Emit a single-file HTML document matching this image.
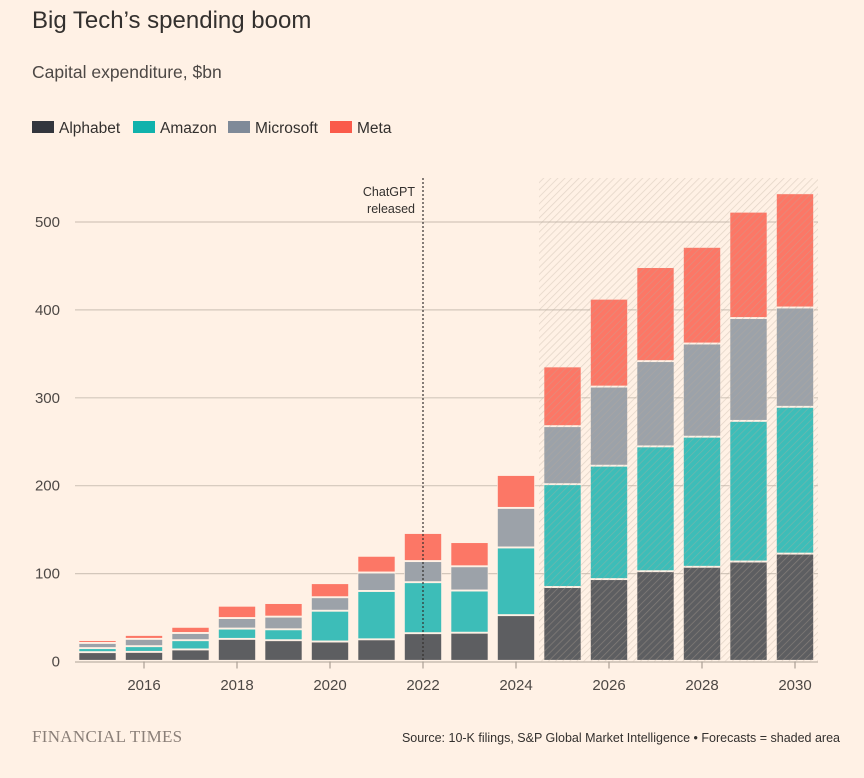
<!DOCTYPE html>
<html><head><meta charset="utf-8"><style>
body{margin:0;background:#fff1e5;font-family:"Liberation Sans",sans-serif;}
#wrap{position:relative;width:864px;height:778px;overflow:hidden;}
</style></head><body>
<div id="wrap">
<svg id="chart" width="864" height="778" xmlns="http://www.w3.org/2000/svg">
<defs>
<pattern id="hatch" width="5" height="5" patternUnits="userSpaceOnUse" patternTransform="rotate(45)">
<rect width="5" height="5" fill="none"/><line x1="0" y1="0" x2="0" y2="5" stroke="#b8ab9c" stroke-width="1.5" stroke-opacity="0.4"/>
</pattern>
</defs>
<text x="32" y="28" font-size="24" fill="#33302e">Big Tech’s spending boom</text>
<text x="32" y="78" font-size="17.5" fill="#4d4845">Capital expenditure, $bn</text>
<g id="legend"></g>
<g id="grid"></g>
<g id="bars"></g>
<g id="overlay"></g>
<g id="axes"></g>
<text x="32" y="742" font-size="17" fill="#8a7f78" font-family="Liberation Serif,serif" letter-spacing="0.3">FINANCIAL TIMES</text>
<text x="840" y="742" font-size="12.5" fill="#33302e" text-anchor="end">Source: 10-K filings, S&amp;P Global Market Intelligence • Forecasts = shaded area</text>
</svg>
</div>
<script>
const years=[2015,2016,2017,2018,2019,2020,2021,2022,2023,2024,2025,2026,2027,2028,2029,2030];
const alphabet=[9.9,10.2,13,25,23.5,22,24.5,31.5,32,52,84,93,102,107,113,122];
const amazon=[4.6,6.5,10.5,11.7,12.4,35,55,58,48,77,117,129,142,148,160,167];
const microsoft=[5.9,8.3,8.2,12,14.4,15.4,21,24,27.6,45,66,90,97,106,117,113];
const meta=[3.3,4.5,7,14,15.5,16,19,32,27.5,37.5,68,100,107,110,121,130];
const yTicks=[0,100,200,300,400,500];
const xTickYears=[2016,2018,2020,2022,2024,2026,2028,2030];
const seriesNames=["Alphabet","Amazon","Microsoft","Meta"];
const series=[alphabet,amazon,microsoft,meta];
const colors=["#5d5e61","#3dbdb8","#9ca2a9","#fc7766"];
const legendColors=["#33363d","#10b2ac","#7f8a98","#fa5a4a"];
const forecastStart=2024.5, releaseYear=2022;
const ns="http://www.w3.org/2000/svg";
const y0=661.5, pxPer=0.879;
function ys(v){return y0-v*pxPer;}
function xs(yr){return 97.5+(yr-2015)*46.5;}
const bw=37;
function mk(tag,attrs,parent){const e=document.createElementNS(ns,tag);for(const k in attrs)e.setAttribute(k,attrs[k]);parent.appendChild(e);return e;}
const legend=document.getElementById('legend');
const legendX=[32,133,228,330];
seriesNames.forEach((n,i)=>{
 const lx=legendX[i];
 const r=mk('rect',{x:lx,y:121,width:22,height:12,fill:legendColors[i]},legend);
 
 
 const t=mk('text',{x:lx+27,y:133,'font-size':15.5,fill:'#33302e'},legend);t.textContent=n;
 
 
});
const grid=document.getElementById('grid');
yTicks.forEach(v=>{
 if(v>0){const l=mk('line',{x1:75,x2:818,y1:ys(v),y2:ys(v),stroke:'#d3c7bb','stroke-width':1.2},grid);
 
 }
 const t=mk('text',{x:60,y:ys(v)+5,'font-size':15,fill:'#4d4845','text-anchor':'end'},grid);t.textContent=v;
 
 
});
const bars=document.getElementById('bars');
years.forEach((yr,j)=>{
 let acc=0;
 series.forEach((s,i)=>{
  const top=ys(acc+s[j]), bot=ys(acc);
  const r=mk('rect',{x:xs(yr)-bw/2,y:top,width:bw,height:Math.max(0,bot-top-1.3),fill:colors[i],stroke:'#fff1e5','stroke-width':0.6},bars);
  
  
  acc+=s[j];
 });
});
const ov=document.getElementById('overlay');
const fx=539;
const sh=mk('rect',{x:fx,y:178,width:818-fx,height:y0-178,fill:'url(#hatch)'},ov);


const dl=mk('line',{x1:xs(releaseYear),x2:xs(releaseYear),y1:178,y2:y0,stroke:'#33302e','stroke-width':1.2,'stroke-dasharray':'2,2'},ov);


const a1=mk('text',{x:xs(releaseYear)-8,y:196,'font-size':12.5,fill:'#33302e','text-anchor':'end'},ov);a1.textContent='ChatGPT';


const a2=mk('text',{x:xs(releaseYear)-8,y:213,'font-size':12.5,fill:'#33302e','text-anchor':'end'},ov);a2.textContent='released';


const axes=document.getElementById('axes');
const base=mk('line',{x1:75,x2:818,y1:y0+0.5,y2:y0+0.5,stroke:'#c9bdb1','stroke-width':1.5},axes);


xTickYears.forEach(yr=>{
 const l=mk('line',{x1:xs(yr),x2:xs(yr),y1:y0,y2:y0+7,stroke:'#a99e94','stroke-width':1.2},axes);
 
 
 const t=mk('text',{x:xs(yr),y:690,'font-size':15,fill:'#4d4845','text-anchor':'middle'},axes);t.textContent=yr;
 
 
});
</script>
</body></html>
